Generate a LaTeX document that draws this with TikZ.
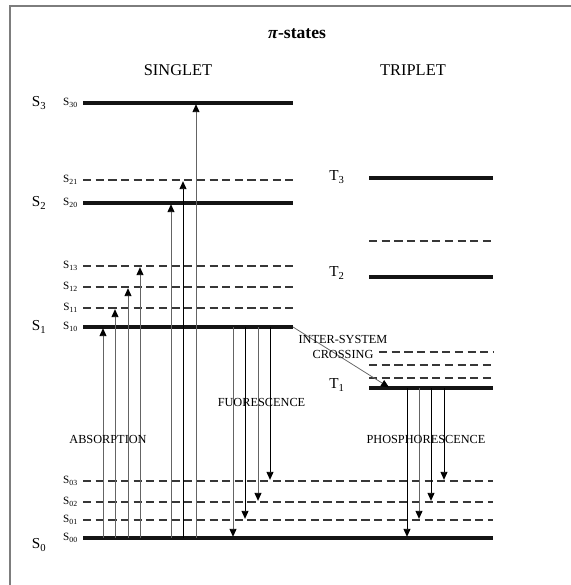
\documentclass[tikz,border=0pt]{standalone}
\usepackage{fontspec}
\setmainfont{Liberation Serif}
\usetikzlibrary{arrows.meta}
\definecolor{lvlK}{RGB}{20,20,20}
\definecolor{arrG}{RGB}{100,100,100}
\definecolor{frameG}{RGB}{125,125,125}

\begin{document}
\begin{tikzpicture}[x={(0.03cm,0cm)},y={(0cm,-0.03cm)},>={Triangle[length=2.4mm,width=2.1mm,color=black]},
  lvl/.style={line width=2.9pt,lvlK},
  vib/.style={line width=1.4pt,lvlK!85,dash pattern=on 7pt off 3.8pt},
  trans/.style={->,line width=0.75pt,shorten >=1pt},
  lbl/.style={font=\fontsize{10.5}{12.5}\selectfont,inner sep=0pt},
  bigS/.style={font=\fontsize{13}{15}\selectfont,inner sep=0pt},
  subS/.style={font=\fontsize{9.5}{10}\selectfont,inner sep=0pt,anchor=east}]
\useasboundingbox (0,0) rectangle (571,585);
% frame (top and left edge only)
\draw[frameG,line width=1.6pt] (10,585) -- (10,6) -- (571,6);
% headings
\node[font=\fontsize{15}{17}\bfseries] (ttl) at (297,34) {\textit{π}-states};
\node[font=\fontsize{14}{16}\selectfont] (sing) at (178,70) {SINGLET};
\node[font=\fontsize{14}{16}\selectfont] (trip) at (413,70) {TRIPLET};
% singlet levels, solid
\foreach \nm/\yy/\xe/\tx in {s30/103/293/30, s20/203/293/20, s10/327/293/10, s00/538/493/00}{
  \coordinate (\nm l) at (83,\yy);
  \coordinate (\nm r) at (\xe,\yy);
  \draw[lvl] (\nm l) -- (\nm r);
  \node[subS] (\nm lab) at (78,\yy) {S\textsubscript{\tx}};
}
% singlet levels, vibrational
\foreach \nm/\yy/\xe/\tx in {s21/180/293/21, s13/266/293/13, s12/287/293/12, s11/308/293/11,
    s03/481/493/03, s02/502/493/02, s01/520/493/01}{
  \coordinate (\nm l) at (83,\yy);
  \coordinate (\nm r) at (\xe,\yy);
  \draw[vib] (\nm l) -- (\nm r);
  \node[subS] (\nm lab) at (78,\yy) {S\textsubscript{\tx}};
}
\node[bigS] (S3) at (39,103) {S\textsubscript{3}};
\node[bigS] (S2) at (39,203) {S\textsubscript{2}};
\node[bigS] (S1) at (39,327) {S\textsubscript{1}};
\node[bigS] (S0) at (39,545) {S\textsubscript{0}};
% triplet levels
\foreach \nm/\yy in {t3/178, t2/277, t1/388}{
  \coordinate (\nm l) at (369,\yy);
  \coordinate (\nm r) at (493,\yy);
  \draw[lvl] (\nm l) -- (\nm r);
}
\foreach \nm/\yy/\xs in {t2v/241/369, t1c/352/379, t1b/365/369, t1a/378/369}{
  \coordinate (\nm l) at (\xs,\yy);
  \coordinate (\nm r) at (493,\yy);
  \draw[vib] (\nm l) -- (\nm r);
}
\node[bigS] (T3) at (337,177) {T\textsubscript{3}};
\node[bigS] (T2) at (337,273) {T\textsubscript{2}};
\node[bigS] (T1) at (337,385) {T\textsubscript{1}};
% absorption
\foreach \xx/\tg/\cl [count=\i] in {103/s10/arrG, 115/s11/arrG, 128/s12/arrG, 140/s13/arrG,
    171/s20/arrG, 183/s21/black, 196/s30/arrG}{
  \coordinate (ab\i) at (\xx,0);
  \draw[trans,\cl] (ab\i |- s00l) -- (ab\i |- \tg l);
}
% fluorescence
\foreach \xx/\tg/\cl [count=\i] in {233/s00/arrG, 245/s01/black, 258/s02/arrG, 270/s03/black}{
  \coordinate (fl\i) at (\xx,0);
  \draw[trans,\cl] (fl\i |- s10l) -- (fl\i |- \tg l);
}
% phosphorescence
\foreach \xx/\tg/\cl [count=\i] in {407/s00/black, 419/s01/arrG, 431/s02/black, 444/s03/black}{
  \coordinate (ph\i) at (\xx,0);
  \draw[trans,\cl] (ph\i |- t1l) -- (ph\i |- \tg l);
}
% inter-system crossing
\coordinate (iscend) at (390,388);
\draw[trans,arrG,line width=0.65pt] (s10r) -- (iscend);
% process labels
\node[lbl] (absl) at (108,439) {ABSORPTION};
\node[lbl] (fluol) at (261.5,402) {FUORESCENCE};
\node[lbl] (phosl) at (426,439) {PHOSPHORESCENCE};
\node[lbl,align=center] (iscl) at (343,347) {INTER-SYSTEM\\CROSSING};
\end{tikzpicture}
\end{document}
